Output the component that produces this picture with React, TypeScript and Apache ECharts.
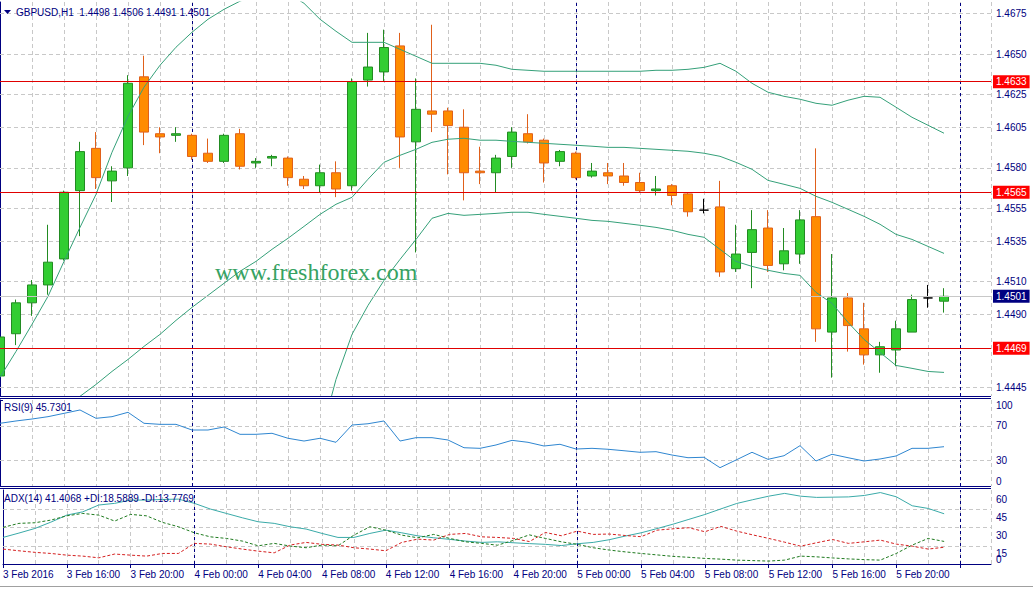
import React, { useEffect, useRef } from 'react';
import * as echarts from 'echarts';

// ---------- data ----------
const timeLabels = [
  '3 Feb 2016', '3 Feb 16:00', '3 Feb 20:00', '4 Feb 00:00', '4 Feb 04:00', '4 Feb 08:00',
  '4 Feb 12:00', '4 Feb 16:00', '4 Feb 20:00', '5 Feb 00:00', '5 Feb 04:00', '5 Feb 08:00',
  '5 Feb 12:00', '5 Feb 16:00', '5 Feb 20:00',
];

// hourly candles from 3 Feb 12:00 to 5 Feb 23:00 : [open, close, low, high]
const candles: number[][] = [
  [1.4452, 1.4476, 1.4449, 1.4486], [1.4478, 1.4497, 1.4471, 1.4499], [1.4497, 1.4508, 1.4489, 1.4511],
  [1.4508, 1.4522, 1.4502, 1.4545], [1.4524, 1.4565, 1.4523, 1.4566], [1.4566, 1.4590, 1.4538, 1.4596],
  [1.4592, 1.4574, 1.4567, 1.4602], [1.4572, 1.4578, 1.4559, 1.4581], [1.4580, 1.4632, 1.4575, 1.4637],
  [1.4636, 1.4602, 1.4594, 1.4649], [1.4601, 1.4599, 1.4589, 1.4605], [1.4600, 1.4601, 1.4596, 1.4605],
  [1.4600, 1.4587, 1.4585, 1.4601], [1.4589, 1.4584, 1.4583, 1.4598], [1.4584, 1.4600, 1.4583, 1.4601],
  [1.4601, 1.4581, 1.4579, 1.4604], [1.4583, 1.4584, 1.4580, 1.4586], [1.4586, 1.4587, 1.4581, 1.4588],
  [1.4586, 1.4574, 1.4569, 1.4587], [1.4573, 1.4569, 1.4567, 1.4575], [1.4569, 1.4577, 1.4565, 1.4582],
  [1.4577, 1.4567, 1.4562, 1.4584], [1.4569, 1.4633, 1.4566, 1.4635], [1.4634, 1.4642, 1.4630, 1.4663],
  [1.4639, 1.4654, 1.4633, 1.4665], [1.4655, 1.4599, 1.4580, 1.4663], [1.4596, 1.4616, 1.4528, 1.4635],
  [1.4615, 1.4613, 1.4602, 1.4668], [1.4615, 1.4606, 1.4576, 1.4617], [1.4605, 1.4577, 1.4560, 1.4616],
  [1.4578, 1.4577, 1.4570, 1.4593], [1.4577, 1.4586, 1.4565, 1.4588], [1.4587, 1.4602, 1.4580, 1.4605],
  [1.4601, 1.4596, 1.4595, 1.4613], [1.4597, 1.4583, 1.4571, 1.4598], [1.4584, 1.4590, 1.4581, 1.4591],
  [1.4589, 1.4574, 1.4573, 1.4590], [1.4575, 1.4578, 1.4574, 1.4583], [1.4577, 1.4575, 1.4570, 1.4583],
  [1.4575, 1.4571, 1.4569, 1.4583], [1.4571, 1.4566, 1.4565, 1.4577], [1.4566, 1.4567, 1.4563, 1.4575],
  [1.4569, 1.4563, 1.4557, 1.4570], [1.4564, 1.4553, 1.4550, 1.4565], [1.4554, 1.4554, 1.4552, 1.4561],
  [1.4556, 1.4516, 1.4513, 1.4572], [1.4518, 1.4527, 1.4516, 1.4545], [1.4528, 1.4542, 1.4506, 1.4554],
  [1.4543, 1.4520, 1.4516, 1.4554], [1.4521, 1.4529, 1.4517, 1.4543], [1.4527, 1.4548, 1.4521, 1.4554],
  [1.4550, 1.4481, 1.4473, 1.4592], [1.4479, 1.4500, 1.4451, 1.4527], [1.4500, 1.4483, 1.4467, 1.4503],
  [1.4481, 1.4465, 1.4459, 1.4497], [1.4465, 1.4470, 1.4454, 1.4473], [1.4468, 1.4481, 1.4458, 1.4486],
  [1.4479, 1.4499, 1.4479, 1.4502], [1.4500, 1.4500, 1.4494, 1.4508], [1.4498, 1.4501, 1.4491, 1.4506],
];

const bbUpper = [
  1.44512, 1.44671, 1.44838, 1.4501, 1.45225, 1.45434, 1.45637, 1.45896, 1.46117, 1.46296,
  1.46431, 1.46542, 1.46634, 1.46714, 1.46775, 1.46825, 1.46862, 1.4688, 1.46874, 1.46812,
  1.46714, 1.4664, 1.46572, 1.46572, 1.46572, 1.46529, 1.46486, 1.46443, 1.46443, 1.46443,
  1.46443, 1.46431, 1.46406, 1.464, 1.46394, 1.46394, 1.46394, 1.46394, 1.46394, 1.46394,
  1.46394, 1.464, 1.464, 1.46406, 1.46418, 1.46443, 1.46394, 1.4632, 1.46265, 1.4624,
  1.46222, 1.46197, 1.46185, 1.46216, 1.4624, 1.46234, 1.46173, 1.46111, 1.46062, 1.46013,
];
const bbMiddle = [
  1.44013, 1.44087, 1.44167, 1.44241, 1.44321, 1.44395, 1.44468, 1.44548, 1.44622, 1.44702,
  1.44776, 1.44862, 1.44942, 1.45016, 1.4509, 1.45164, 1.45225, 1.45299, 1.45367, 1.4544,
  1.45514, 1.45576, 1.45619, 1.4573, 1.45834, 1.45877, 1.45914, 1.45957, 1.45976, 1.45982,
  1.4597, 1.4597, 1.45963, 1.45957, 1.45951, 1.45945, 1.45939, 1.45933, 1.45926, 1.45926,
  1.4592, 1.45914, 1.45908, 1.45902, 1.4589, 1.45871, 1.45834, 1.45791, 1.45723, 1.45699,
  1.45674, 1.45625, 1.45588, 1.45545, 1.45502, 1.45453, 1.45391, 1.4536, 1.45317, 1.45274,
];
const bbLower = [
  null, null, null, null, null, null, null, null, null, null,
  null, null, null, null, null, null, null, null, null, null,
  1.4413, 1.44499, 1.44776, 1.44954, 1.45108, 1.45237, 1.4536, 1.4549, 1.4552, 1.45508,
  1.45514, 1.4552, 1.45527, 1.45527, 1.45514, 1.45502, 1.4549, 1.45477, 1.45471, 1.45459,
  1.45447, 1.45434, 1.45416, 1.45391, 1.45373, 1.45299, 1.45225, 1.45194, 1.4517, 1.45151,
  1.45139, 1.45034, 1.44967, 1.4485, 1.44745, 1.44665, 1.44585, 1.44567, 1.44548, 1.44542,
];

const rsi = [
  72.9, 75.6, 77.9, 80.6, 84.5, 88.4, 78.7, 80.6, 85.7, 72.9,
  71.7, 71.7, 65.1, 65.1, 68.6, 60.1, 60.1, 61.3, 55.5, 52.3,
  55.5, 50.8, 70.9, 72.4, 75.6, 52.3, 56.2, 56.2, 53.5, 44.5,
  43.8, 47.7, 53.1, 50.8, 46.5, 48.5, 43, 43.8, 42.7, 41,
  39.2, 39.9, 36, 32.9, 33.4, 21.3, 30.2, 39.2, 31, 35.2,
  46.9, 29.1, 36.9, 32.9, 29.1, 31.4, 34.9, 43.8, 43.8, 45.7,
];

const adx = [
  21.9, 25.5, 29.3, 34.5, 40.3, 43, 48.6, 50, 52.7, 52.7,
  53.2, 53.5, 50, 45.3, 41.7, 38.1, 34.8, 33.5, 30.7, 28.8,
  25.2, 21.9, 21.9, 25.2, 27.9, 25.7, 23.2, 21.6, 20.3, 18.9,
  17.8, 18.3, 17.5, 16.8, 16.2, 15.2, 16.7, 17.8, 20, 23,
  25.7, 29.2, 32.8, 36.8, 40.8, 45.4, 49.9, 53, 55.9, 58.2,
  55.9, 54.9, 55.1, 55.3, 56.5, 58.9, 55.4, 48, 45.8, 41.4,
];
const plusDI = [
  30.2, 33.5, 34, 36.2, 39.7, 41.7, 40.3, 35.4, 40.9, 39.7,
  34.3, 30.7, 25.7, 22.4, 21.1, 18.9, 15, 17, 14.8, 13.4,
  15.6, 15, 23.8, 30.7, 27.9, 23.8, 21.6, 24.4, 21.1, 18.3,
  17, 15.5, 19.5, 24, 21.1, 18.3, 16.2, 13.4, 11.5, 10,
  8.7, 7.5, 6.3, 5.5, 4.6, 4, 3.2, 2.8, 2.4, 3.2,
  6.5, 5.9, 5, 4.2, 3.6, 3.2, 8.7, 15.6, 21.1, 18.6,
];
const minusDI = [
  12.3, 10.9, 9.6, 8.7, 7.3, 6.5, 5.1, 8.2, 7.3, 6.5,
  8.7, 8.7, 17, 16.4, 14.2, 12.3, 10.6, 9.2, 15.6, 17.8,
  16.2, 15.6, 13.4, 12.3, 10.9, 17.8, 20.5, 19.7, 24.4, 25.2,
  22.4, 21.9, 21.1, 18.5, 26, 23.3, 27.1, 24.4, 24.7, 23.5,
  22.5, 27.9, 29, 29.9, 26.6, 31, 27.1, 24, 21.1, 18,
  14.7, 17.5, 20.2, 17, 18.3, 19.7, 16.4, 14.7, 12.3, 13.8,
];

const priceTicks = [1.4445, 1.449, 1.451, 1.4535, 1.4555, 1.458, 1.4605, 1.4625, 1.465, 1.4675];
const levelLines = [1.4633, 1.4565, 1.4469];
const lastPrice = 1.4501;
const rsiTicks = [0, 30, 70, 100];
const rsiGridLevels = [30, 70];
const adxTicks = [15, 30, 45, 60];
const adxBaseTick = [0];
const adxGridLevels = [15, 30, 45];
const daySeparators = [12, 36, 60];

// ---------- styling ----------
const NAVY = '#000080';
const FONT = '"Liberation Sans", Arial, sans-serif';
const PLOT_W = 991;
const X_MAX = PLOT_W / 16;
const P_MIN = 1.44397;
const P_MAX = 1.4682;
const ADX_MAX = 61;
const gridLine = { color: '#c8c8c8', type: [4, 3] as any, width: 1 };
const sepLine = { color: NAVY, type: [3, 3] as any, width: 1 };

function xAxisFor(gridIndex: number, withLabels: boolean) {
  return {
    type: 'value',
    gridIndex,
    min: 0,
    max: X_MAX,
    interval: 4,
    axisLine: { show: withLabels, onZero: false, lineStyle: { color: NAVY, width: 1 } },
    axisTick: { show: withLabels, length: 4, lineStyle: { color: NAVY } },
    axisLabel: {
      show: withLabels,
      showMinLabel: true,
      showMaxLabel: false,
      align: 'left',
      margin: 5,
      color: NAVY,
      fontSize: 10,
      fontFamily: FONT,
      formatter: (v: number) => {
        const r = Math.round(v);
        if (Math.abs(v - r) > 1e-6 || r % 4 !== 0) return '';
        const i = r / 4;
        return i < timeLabels.length ? timeLabels[i] : '';
      },
    },
    splitLine: { show: true, lineStyle: gridLine },
    minorTick: { show: false, splitNumber: 2 },
    minorSplitLine: { show: true, lineStyle: gridLine },
  };
}

const sepData = daySeparators.map((x) => ({ xAxis: x, lineStyle: sepLine }));

export default function App() {
  const ref = useRef<HTMLDivElement>(null);

  useEffect(() => {
    if (!ref.current) return;
    const chart = echarts.init(ref.current, null, { renderer: 'svg' });

    const boxLabel = (bg: string) => ({
      show: true,
      position: 'end',
      distance: 2,
      color: '#ffffff',
      backgroundColor: bg,
      padding: [2, 3, 1, 3],
      fontSize: 10,
      fontFamily: FONT,
      formatter: (p: any) => Number(p.value).toFixed(4),
    });

    const gridMarkLine = (data: any[]) => ({
      z: 1, silent: true, animation: false, precision: 6,
      symbol: ['none', 'none'], label: { show: false }, data,
    });

    const option: any = {
      animation: false,
      backgroundColor: '#ffffff',
      grid: [
        { left: 0, width: PLOT_W, top: 2, height: 394 },
        { left: 0, width: PLOT_W, top: 400, height: 86 },
        { left: 0, width: PLOT_W, top: 490, height: 74 },
      ],
      xAxis: [xAxisFor(0, false), xAxisFor(1, false), xAxisFor(2, true)],
      yAxis: [
        {
          type: 'value', gridIndex: 0, position: 'right', min: P_MIN, max: P_MAX,
          axisLine: { show: true, lineStyle: { color: NAVY } },
          axisTick: { show: true, length: 3, customValues: priceTicks, lineStyle: { color: NAVY } },
          axisLabel: {
            customValues: priceTicks, formatter: (v: number) => v.toFixed(4),
            color: NAVY, fontSize: 10, fontFamily: FONT, margin: 5,
          },
          splitLine: { show: false },
        },
        {
          type: 'value', gridIndex: 1, position: 'right', min: 0, max: 100,
          axisLine: { show: true, lineStyle: { color: NAVY } },
          axisTick: { show: true, length: 3, customValues: rsiTicks, lineStyle: { color: NAVY } },
          axisLabel: {
            customValues: rsiTicks, color: NAVY, fontSize: 10, fontFamily: FONT, margin: 5,
            showMinLabel: true, showMaxLabel: true, hideOverlap: false,
            verticalAlignMinLabel: 'bottom', verticalAlignMaxLabel: 'top',
          },
          splitLine: { show: false },
        },
        {
          type: 'value', gridIndex: 2, position: 'right', min: 0, max: ADX_MAX,
          axisLine: { show: true, lineStyle: { color: NAVY } },
          axisTick: { show: true, length: 3, customValues: adxGridLevels, lineStyle: { color: NAVY } },
          axisLabel: {
            customValues: adxTicks, color: NAVY, fontSize: 10, fontFamily: FONT, margin: 5,
            showMinLabel: true, showMaxLabel: true, hideOverlap: false,
            verticalAlign: 'top', padding: [3, 0, 0, 0],
          },
          splitLine: { show: false },
        },
        {
          type: 'value', gridIndex: 2, position: 'right', min: 0, max: ADX_MAX,
          axisLine: { show: false },
          axisTick: { show: false },
          axisLabel: {
            customValues: adxBaseTick, color: NAVY, fontSize: 10, fontFamily: FONT, margin: 5,
            showMinLabel: true, verticalAlign: 'bottom',
          },
          splitLine: { show: false },
        },
      ],
      series: [
        {
          type: 'candlestick',
          xAxisIndex: 0, yAxisIndex: 0,
          data: candles.map((c, i) => [i, c[0], c[1], c[2], c[3]]),
          encode: { x: 0, y: [1, 2, 3, 4] },
          barWidth: 10,
          itemStyle: {
            color: '#32cd32', color0: '#ff8c00',
            borderColor: '#228b22', borderColor0: '#e0601a', borderColorDoji: '#000000',
            borderWidth: 1,
          },
        },
        {
          type: 'line', xAxisIndex: 0, yAxisIndex: 0, symbol: 'none', showSymbol: false,
          data: bbUpper.map((v, i) => [i, v]),
          lineStyle: { color: '#35a079', width: 1 },
          markLine: {
            z: 5, silent: true, animation: false, precision: 6, symbol: ['none', 'none'],
            data: [
              {
                yAxis: lastPrice,
                lineStyle: { color: '#c8c8c8', width: 1, type: 'solid' },
                label: boxLabel(NAVY),
              },
              ...levelLines.map((v) => ({
                yAxis: v,
                lineStyle: { color: '#e00000', width: 1, type: 'solid' },
                label: boxLabel('#ff0000'),
              })),
            ],
          },
        },
        {
          type: 'line', xAxisIndex: 0, yAxisIndex: 0, symbol: 'none', showSymbol: false,
          data: bbMiddle.map((v, i) => [i, v]),
          lineStyle: { color: '#35a079', width: 1 },
          markLine: gridMarkLine([...priceTicks.map((v) => ({ yAxis: v, lineStyle: gridLine })), ...sepData]),
        },
        {
          type: 'line', xAxisIndex: 0, yAxisIndex: 0, symbol: 'none', showSymbol: false,
          data: bbLower.map((v, i) => [i, v]),
          lineStyle: { color: '#35a079', width: 1 },
        },
        {
          type: 'line', xAxisIndex: 1, yAxisIndex: 1, symbol: 'none', showSymbol: false,
          data: rsi.map((v, i) => [i, v]),
          lineStyle: { color: '#2f86d0', width: 1 },
          markLine: gridMarkLine([...rsiGridLevels.map((v) => ({ yAxis: v, lineStyle: gridLine })), ...sepData]),
        },
        {
          type: 'line', xAxisIndex: 2, yAxisIndex: 2, symbol: 'none', showSymbol: false,
          data: adx.map((v, i) => [i, v]),
          lineStyle: { color: '#3aaaa8', width: 1 },
          markLine: gridMarkLine([...adxGridLevels.map((v) => ({ yAxis: v, lineStyle: gridLine })), ...sepData]),
        },
        {
          type: 'line', xAxisIndex: 2, yAxisIndex: 2, symbol: 'none', showSymbol: false,
          data: plusDI.map((v, i) => [i, v]),
          lineStyle: { color: '#1f7a1f', width: 1, type: [3, 2] },
        },
        {
          type: 'line', xAxisIndex: 2, yAxisIndex: 2, symbol: 'none', showSymbol: false,
          data: minusDI.map((v, i) => [i, v]),
          lineStyle: { color: '#d42020', width: 1, type: [3, 2] },
        },
      ],
      graphic: [
        { type: 'line', silent: true, z: 100, shape: { x1: 0, y1: 396.5, x2: PLOT_W, y2: 396.5 }, style: { stroke: NAVY, lineWidth: 1 } },
        { type: 'line', silent: true, z: 100, shape: { x1: 0, y1: 398.5, x2: PLOT_W, y2: 398.5 }, style: { stroke: NAVY, lineWidth: 1 } },
        { type: 'line', silent: true, z: 100, shape: { x1: 0, y1: 486.5, x2: PLOT_W, y2: 486.5 }, style: { stroke: NAVY, lineWidth: 1 } },
        { type: 'line', silent: true, z: 100, shape: { x1: 0, y1: 488.5, x2: PLOT_W, y2: 488.5 }, style: { stroke: NAVY, lineWidth: 1 } },
        { type: 'line', silent: true, z: 100, shape: { x1: 0, y1: 586.5, x2: 1033, y2: 586.5 }, style: { stroke: '#a0a0a0', lineWidth: 1 } },
        { type: 'polygon', silent: true, z: 100, shape: { points: [[4, 10], [11, 10], [7.5, 14]] }, style: { fill: NAVY } },
        {
          type: 'text', silent: true, z: 100, x: 16, y: 12,
          style: { text: 'GBPUSD,H1\u00a0\u00a01.4498 1.4506 1.4491 1.4501', fill: NAVY, fontSize: 10, fontFamily: FONT, verticalAlign: 'middle' },
        },
        {
          type: 'text', silent: true, z: 100, x: 4, y: 407,
          style: { text: 'RSI(9) 45.7301', fill: NAVY, fontSize: 10, fontFamily: FONT, verticalAlign: 'middle' },
        },
        {
          type: 'text', silent: true, z: 100, x: 4, y: 498,
          style: { text: 'ADX(14) 41.4068 +DI:18.5889 -DI:13.7769', fill: NAVY, fontSize: 10, fontFamily: FONT, verticalAlign: 'middle' },
        },
        {
          type: 'text', silent: true, z: 100, x: 215, y: 272,
          style: { text: 'www.freshforex.com', fill: '#36a262', fontSize: 24, fontFamily: '"Liberation Serif", "Times New Roman", serif', verticalAlign: 'middle' },
        },
      ],
    };

    chart.setOption(option);
    return () => chart.dispose();
  }, []);

  return (
    <div
      ref={ref}
      style={{ position: 'fixed', left: 0, top: 0, width: 1033, height: 589, background: '#ffffff' }}
    />
  );
}
